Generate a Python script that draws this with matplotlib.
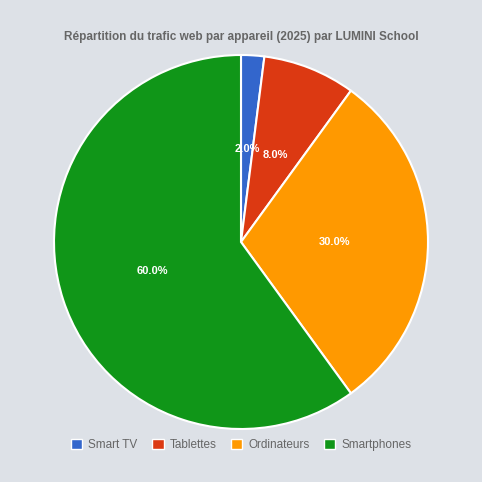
import matplotlib
matplotlib.use("Agg")
import matplotlib.pyplot as plt
from matplotlib.patches import Patch

categories = ["Smart TV", "Tablettes", "Ordinateurs", "Smartphones"]
values = [2.0, 8.0, 30.0, 60.0]
colors = ["#3366cc", "#dc3912", "#ff9900", "#109618"]
bg = "#dde1e7"

fig = plt.figure(figsize=(4.82, 4.82), dpi=100, facecolor=bg)
R = 187
ax = fig.add_axes([(241 - R) / 482, (482 - 242 - R) / 482, 2 * R / 482, 2 * R / 482])
ax.set_facecolor(bg)
wedges, texts, autotexts = ax.pie(values, colors=colors, startangle=90, counterclock=False,
       autopct="%1.1f%%", pctdistance=0.5,
       wedgeprops=dict(edgecolor="white", linewidth=1.5),
       textprops=dict(color="white", fontsize=8, fontweight="bold", family="Arial" if False else "Liberation Sans"))
ax.set_xlim(-1, 1); ax.set_ylim(-1, 1)
ax.set_aspect("equal")

fig.text(0.5, 1 - 37 / 482, "Répartition du trafic web par appareil (2025) par LUMINI School",
         ha="center", va="center", fontsize=8.5, fontweight="bold", color="#666666",
         family="Liberation Sans")

handles = [Patch(facecolor=c, edgecolor="white") for c in colors]
fig.legend(handles, categories, loc="center", bbox_to_anchor=(0.5, 1 - 445 / 482), ncol=4,
           frameon=False, prop=dict(family="Liberation Sans", size=8.5), labelcolor="#666666",
           handlelength=1.0, handleheight=1.0, handletextpad=0.5, columnspacing=1.2)

fig.savefig("out.png", dpi=100, facecolor=bg)
